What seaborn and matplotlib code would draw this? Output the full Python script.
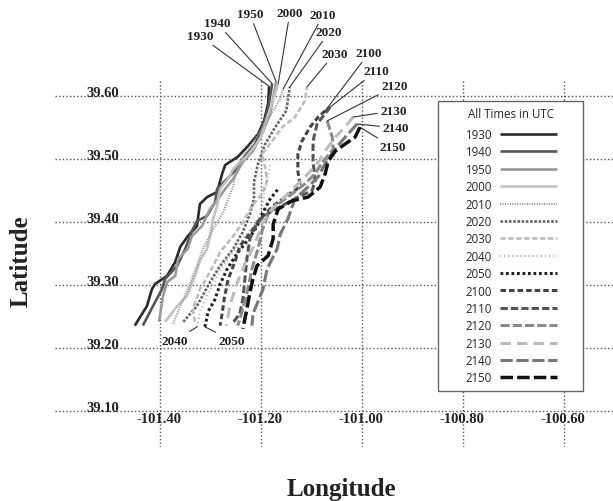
#!/usr/bin/env python3
"""Storm track positions (lat/lon) every ten minutes, grey-scale line styles."""
import matplotlib
matplotlib.use("Agg")
import matplotlib.pyplot as plt
from matplotlib.patches import Rectangle
import numpy as np
import pandas as pd
import seaborn as sns

# ---- data (degrees) ----
times = ["1930", "1940", "1950", "2000", "2010", "2020", "2030", "2040",
         "2050", "2100", "2110", "2120", "2130", "2140", "2150"]

lon_1930 = [-101.450, -101.426, -101.416, -101.410, -101.386, -101.370, -101.360, -101.345, -101.327, -101.321,
            -101.307, -101.287, -101.277, -101.271, -101.246, -101.226, -101.206, -101.194, -101.186, -101.184]
lat_1930 = [39.236, 39.267, 39.294, 39.302, 39.315, 39.337, 39.361, 39.378, 39.394, 39.429,
            39.440, 39.448, 39.477, 39.491, 39.504, 39.521, 39.540, 39.561, 39.588, 39.616]

lon_1940 = [-101.434, -101.414, -101.396, -101.390, -101.366, -101.350, -101.337, -101.327, -101.307,
            -101.291, -101.287, -101.267, -101.248, -101.232, -101.212, -101.198, -101.186, -101.178]
lat_1940 = [39.236, 39.267, 39.294, 39.310, 39.331, 39.358, 39.386, 39.402, 39.410,
            39.432, 39.453, 39.469, 39.485, 39.505, 39.524, 39.548, 39.580, 39.620]

lon_1950 = [-101.402, -101.394, -101.386, -101.370, -101.364, -101.345, -101.337, -101.317, -101.301,
            -101.285, -101.271, -101.255, -101.236, -101.216, -101.198, -101.182, -101.170]
lat_1950 = [39.242, 39.283, 39.305, 39.315, 39.342, 39.358, 39.378, 39.394, 39.421,
            39.437, 39.453, 39.469, 39.496, 39.513, 39.540, 39.572, 39.623]

lon_2000 = [-101.390, -101.366, -101.347, -101.331, -101.321, -101.307, -101.301, -101.295,
            -101.287, -101.281, -101.265, -101.255, -101.228, -101.202, -101.182, -101.166]
lat_2000 = [39.242, 39.267, 39.283, 39.315, 39.339, 39.358, 39.378, 39.405,
            39.426, 39.453, 39.469, 39.485, 39.505, 39.532, 39.580, 39.620]

lon_2010 = [-101.374, -101.360, -101.345, -101.327, -101.315, -101.295, -101.275,
            -101.255, -101.248, -101.236, -101.212, -101.186, -101.162, -101.156]
lat_2010 = [39.239, 39.267, 39.294, 39.331, 39.358, 39.389, 39.416,
            39.458, 39.485, 39.505, 39.532, 39.564, 39.596, 39.612]

lon_2020 = [-101.354, -101.327, -101.301, -101.281, -101.255, -101.236, -101.222,
            -101.214, -101.214, -101.206, -101.192, -101.172, -101.150, -101.143]
lat_2020 = [39.242, 39.267, 39.305, 39.331, 39.358, 39.385, 39.413,
            39.437, 39.464, 39.493, 39.524, 39.551, 39.577, 39.615]

lon_2030 = [-101.331, -101.335, -101.321, -101.301, -101.281, -101.255, -101.236, -101.218, -101.198,
            -101.188, -101.192, -101.198, -101.178, -101.158, -101.133, -101.113, -101.109]
lat_2030 = [39.242, 39.262, 39.294, 39.321, 39.353, 39.378, 39.400, 39.426, 39.445,
            39.466, 39.488, 39.508, 39.529, 39.551, 39.567, 39.593, 39.615]

lon_2040 = [-101.327, -101.321, -101.311, -101.295, -101.277, -101.255,
            -101.232, -101.212, -101.198, -101.192, -101.186, -101.182]
lat_2040 = [39.234, 39.258, 39.278, 39.302, 39.329, 39.353,
            39.378, 39.397, 39.421, 39.453, 39.477, 39.493]

lon_2050 = [-101.311, -101.305, -101.291, -101.281, -101.267, -101.248,
            -101.228, -101.208, -101.196, -101.182, -101.166]
lat_2050 = [39.234, 39.258, 39.278, 39.302, 39.326, 39.350,
            39.370, 39.393, 39.416, 39.437, 39.453]

lon_2100 = [-101.073, -101.087, -101.103, -101.119, -101.127, -101.127, -101.123, -101.129, -101.149,
            -101.176, -101.196, -101.216, -101.242, -101.251, -101.265, -101.273, -101.277, -101.281]
lat_2100 = [39.577, 39.567, 39.551, 39.529, 39.508, 39.481, 39.461, 39.453, 39.442,
            39.426, 39.410, 39.389, 39.362, 39.339, 39.310, 39.278, 39.255, 39.236]

lon_2110 = [-101.063, -101.089, -101.097, -101.097, -101.093, -101.099, -101.127, -101.152,
            -101.182, -101.206, -101.222, -101.228, -101.232, -101.236, -101.242, -101.257]
lat_2110 = [39.583, 39.556, 39.529, 39.497, 39.466, 39.450, 39.440, 39.429,
            39.416, 39.402, 39.374, 39.342, 39.310, 39.278, 39.255, 39.239]

lon_2120 = [-101.069, -101.059, -101.057, -101.077, -101.093, -101.113, -101.139, -101.166,
            -101.186, -101.198, -101.206, -101.218, -101.226, -101.236, -101.246]
lat_2120 = [39.561, 39.535, 39.516, 39.497, 39.477, 39.461, 39.445, 39.429,
            39.413, 39.386, 39.358, 39.326, 39.294, 39.262, 39.236]

lon_2130 = [-101.018, -101.034, -101.053, -101.073, -101.089, -101.107, -101.133, -101.158,
            -101.182, -101.198, -101.212, -101.232, -101.248, -101.261, -101.269]
lat_2130 = [39.567, 39.551, 39.535, 39.513, 39.493, 39.477, 39.456, 39.437,
            39.418, 39.397, 39.366, 39.334, 39.302, 39.270, 39.236]

lon_2140 = [-101.010, -101.028, -101.040, -101.057, -101.073, -101.087, -101.107, -101.133,
            -101.147, -101.162, -101.168, -101.188, -101.196, -101.208, -101.216, -101.218]
lat_2140 = [39.556, 39.540, 39.529, 39.513, 39.493, 39.472, 39.456, 39.437,
            39.405, 39.381, 39.358, 39.326, 39.294, 39.270, 39.255, 39.236]

lon_2150 = [-101.004, -101.014, -101.034, -101.053, -101.067, -101.073, -101.083, -101.107, -101.139,
            -101.166, -101.176, -101.176, -101.186, -101.208, -101.216, -101.222, -101.228, -101.236]
lat_2150 = [39.551, 39.535, 39.524, 39.513, 39.497, 39.477, 39.456, 39.440, 39.434,
            39.421, 39.397, 39.374, 39.347, 39.331, 39.310, 39.289, 39.262, 39.231]

x_ticks = [-101.40, -101.20, -101.00, -100.80, -100.60]
y_ticks = [39.10, 39.20, 39.30, 39.40, 39.50, 39.60]

# label text positions for the track annotations (lon, lat)
top_label_times = ["1930", "1940", "1950", "2000", "2010", "2020", "2030",
                   "2100", "2110", "2120", "2130", "2140", "2150"]
top_label_lon = [-101.321, -101.287, -101.222, -101.143, -101.077, -101.065, -101.055,
                 -100.986, -100.972, -100.935, -100.937, -100.933, -100.939]
top_label_lat = [39.696, 39.716, 39.730, 39.732, 39.729, 39.702, 39.667,
                 39.669, 39.640, 39.616, 39.577, 39.550, 39.519]
bottom_label_times = ["2040", "2050"]
bottom_label_lon = [-101.370, -101.257]
bottom_label_lat = [39.212, 39.212]

# ---- styles ----
colors = {"1930": "#2a2a2a", "1940": "#555555", "1950": "#999999", "2000": "#c2c2c2",
          "2010": "#9a9a9a", "2020": "#666666", "2030": "#bdbdbd", "2040": "#a8a8a8",
          "2050": "#1e1e1e", "2100": "#444444", "2110": "#555555", "2120": "#8a8a8a",
          "2130": "#bcbcbc", "2140": "#777777", "2150": "#111111"}
dashes = {"1930": "", "1940": "", "1950": "", "2000": "",
          "2010": (0.5, 0.6), "2020": (1.0, 0.6), "2030": (2.0, 1.0), "2040": (0.5, 1.6),
          "2050": (0.9, 0.9), "2100": (1.8, 1.0), "2110": (2.4, 1.0), "2120": (3.0, 1.0),
          "2130": (3.4, 2.0), "2140": (4.0, 1.2), "2150": (3.6, 1.2)}
widths = {"1930": 1.9, "1940": 1.9, "1950": 1.9, "2000": 1.9, "2010": 1.6, "2020": 1.9,
          "2030": 1.9, "2040": 1.4, "2050": 2.2, "2100": 2.2, "2110": 2.2, "2120": 2.2,
          "2130": 2.2, "2140": 2.2, "2150": 2.5}

tracks = {t: (globals()[f"lon_{t}"], globals()[f"lat_{t}"]) for t in times}
frames = []
for t in times:
    lo, la = tracks[t]
    frames.append(pd.DataFrame({"lon": lo, "lat": la, "time": t}))
df = pd.concat(frames, ignore_index=True)

sns.set_theme(style="white")
serif = "Liberation Serif"
sans = "Open Sans"

fig = plt.figure(figsize=(6.13, 5.02), dpi=100)
ax = fig.add_axes([55 / 613, 1 - 448 / 502, 558 / 613, 368 / 502])

sns.lineplot(data=df, x="lon", y="lat", hue="time", style="time", size="time",
             hue_order=times, style_order=times, size_order=times,
             palette=colors, dashes=dashes, sizes=widths,
             sort=False, estimator=None, legend=False, ax=ax)
for line in ax.lines:
    line.set_solid_capstyle("butt")
    line.set_dash_capstyle("butt")

ax.set_xlim(-101.608, -100.503)
ax.set_ylim(39.0433, 39.6275)
ax.set_xticks(x_ticks)
ax.set_yticks(y_ticks)
ax.tick_params(length=0, labelbottom=False, labelleft=False)
ax.grid(True, linestyle=(0, (1, 1.6)), color="#555555", linewidth=1.0)
for s in ax.spines.values():
    s.set_visible(False)
ax.set_xlabel("")
ax.set_ylabel("")

for v in y_ticks:
    ax.text(-101.481, v + 0.0012, f"{v:.2f}", ha="right", va="baseline",
            fontsize=10.5, fontweight="bold", family=serif, color="#222222")
for v in x_ticks:
    ax.text(v - 0.003, 39.0995, f"{v:.2f}", ha="center", va="top",
            fontsize=10.5, fontweight="bold", family=serif, color="#222222")

# leader lines: top labels point at the northern end, bottom labels at the southern end
arrow = dict(arrowstyle="-", lw=0.8, color="#333333", shrinkA=0, shrinkB=0)
label_style = dict(ha="center", va="center", fontsize=9.5, fontweight="bold",
                   family=serif, color="#222222", annotation_clip=False)
for t, tx, ty in zip(top_label_times, top_label_lon, top_label_lat):
    lo, la = tracks[t]
    i = int(np.argmax(la))
    ax.annotate(t, xy=(lo[i], la[i]), xytext=(tx, ty), arrowprops=arrow, **label_style)
for t, tx, ty in zip(bottom_label_times, bottom_label_lon, bottom_label_lat):
    lo, la = tracks[t]
    i = int(np.argmin(la))
    ax.annotate(t, xy=(lo[i], la[i]), xytext=(tx, ty), arrowprops=arrow, **label_style)

# legend box (white, covering the grid) and the legend itself
ax.add_patch(Rectangle((438 / 613, 1 - 392 / 502), 145 / 613, 290 / 502,
                       transform=fig.transFigure, facecolor="white",
                       edgecolor="#666666", linewidth=1.0, zorder=4.5, clip_on=False))
handles = ax.lines[:len(times)]
leg = ax.legend(handles, times, title="All Times in UTC", loc="upper center",
                bbox_to_anchor=(511 / 613, 1 - 102 / 502), bbox_transform=fig.transFigure,
                frameon=False, markerfirst=False, handlelength=4.9, handletextpad=0.7,
                labelspacing=0.38, borderpad=0, prop={"family": sans, "size": 8.3},
                title_fontproperties={"family": sans, "size": 8.3})
leg._legend_box.sep = 6
leg.set_zorder(5)

fig.text(21 / 613, 1 - 261 / 502, "Latitude", rotation=90, ha="center", va="center",
         fontsize=18, fontweight="bold", family=serif, color="#222222")
fig.text(341 / 613, 1 - 496 / 502, "Longitude", ha="center", va="baseline",
         fontsize=18, fontweight="bold", family=serif, color="#222222")

fig.savefig("out.png", dpi=100)
